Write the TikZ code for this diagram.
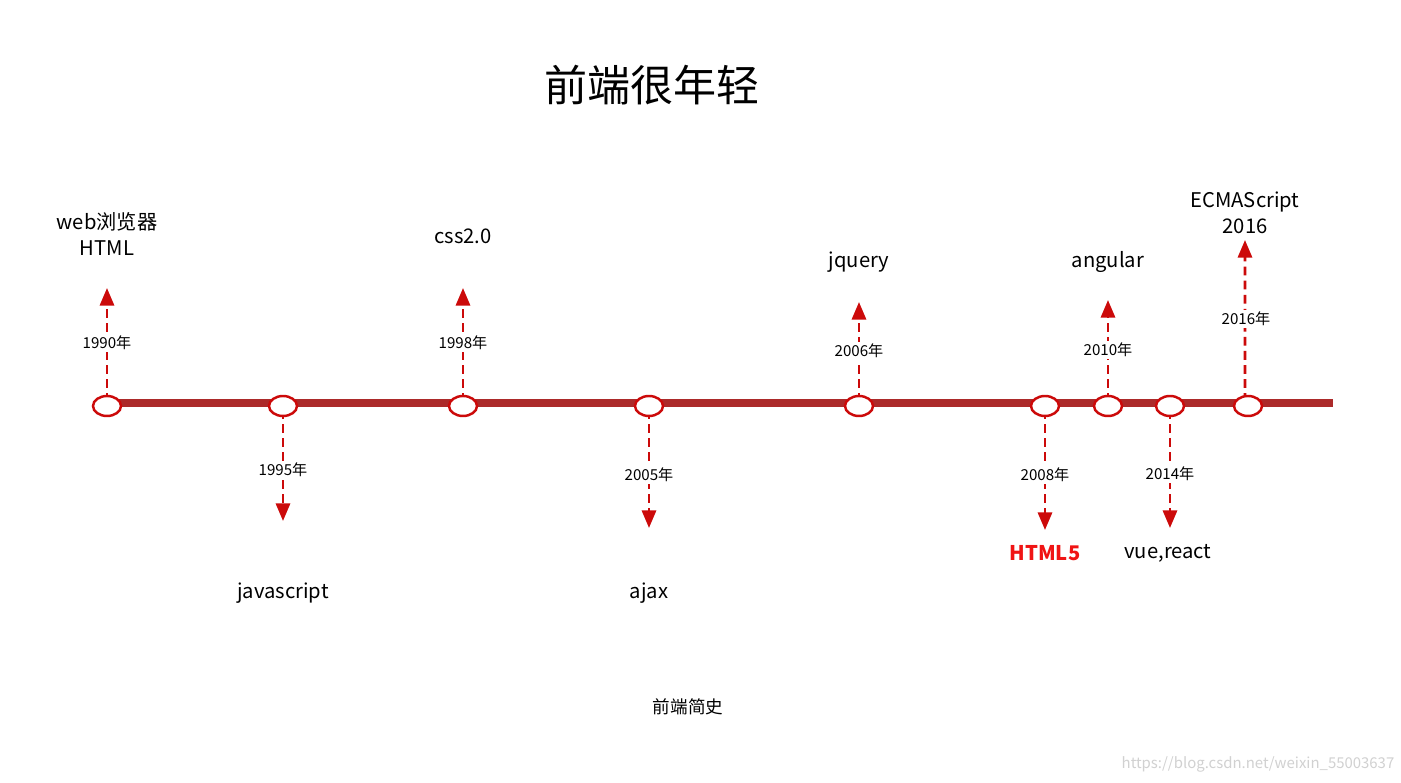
\documentclass[tikz,border=0pt]{standalone}
\usepackage{fontspec}
\setmainfont{Noto Sans CJK SC}
\newfontfamily\cjk{Noto Sans CJK SC}
\usetikzlibrary{arrows.meta}
\definecolor{axisred}{RGB}{172,42,42}
\definecolor{ringred}{RGB}{204,10,10}
\definecolor{hred}{RGB}{240,20,20}
\tikzset{
  x=0.02cm, y=-0.02cm,
  dot/.style={draw=ringred, line width=1.4pt, fill=white},
  conn/.style={draw=ringred, line width=1.6pt, dash pattern=on 5pt off 3pt, -{Triangle[width=8pt,length=10pt]}},
  yearlbl/.style={fill=white, inner sep=1pt, font=\cjk\fontsize{8.6}{10}\selectfont},
  evt/.style={font=\cjk\fontsize{11.5}{15}\selectfont, align=center, inner sep=0pt},
}
\begin{document}
\begin{tikzpicture}
\useasboundingbox (0,0) rectangle (1401,783);
\fill[white] (0,0) rectangle (1401,783);
% title
\node[font=\cjk\fontsize{24.5}{30}\selectfont] (title) at (652,85) {前端很年轻};
% axis
\coordinate (axL) at (100,403);
\coordinate (axR) at (1333,403);
\draw[axisred, line width=4pt] (axL) -- (axR);
% rings
\foreach \n/\x in {c90/107,c95/283,c98/463,c05/649,c06/859,c08/1045,c10/1108,c14/1170,c16/1248}{
  \coordinate (\n) at (\x,406);
}
% arrow endpoints
\coordinate (t90) at (107,288);
\coordinate (t95) at (283,521);
\coordinate (t98) at (463,288);
\coordinate (t05) at (649,528);
\coordinate (t06) at (859,302);
\coordinate (t08) at (1045,530);
\coordinate (t10) at (1108,300);
\coordinate (t14) at (1170,528);
\coordinate (t16) at (1245,240);
% connectors
\draw[conn] ([yshift=-0.2cm]c90) -- (t90);
\draw[conn] ([yshift=0.2cm]c95) -- (t95);
\draw[conn] ([yshift=-0.2cm]c98) -- (t98);
\draw[conn] ([yshift=0.2cm]c05) -- (t05);
\draw[conn] ([yshift=-0.2cm]c06) -- (t06);
\draw[conn] ([yshift=0.2cm]c08) -- (t08);
\draw[conn] ([yshift=-0.2cm]c10) -- (t10);
\draw[conn] ([yshift=0.2cm]c14) -- (t14);
\draw[conn] ([yshift=-0.2cm,xshift=-0.06cm]c16) -- (t16);
% ring shapes
\foreach \n in {c90,c95,c98,c05,c06,c08,c10,c14,c16}{
  \draw[dot] (\n) ellipse [x radius=0.28cm, y radius=0.2cm];
}
% year labels
\node[yearlbl] (y90) at (107,343) {1990年};
\node[yearlbl] (y95) at (283,470) {1995年};
\node[yearlbl] (y98) at (463,343) {1998年};
\node[yearlbl] (y05) at (649,475) {2005年};
\node[yearlbl] (y06) at (859,351) {2006年};
\node[yearlbl] (y08) at (1045,475) {2008年};
\node[yearlbl] (y10) at (1108,350) {2010年};
\node[yearlbl] (y14) at (1170,474) {2014年};
\node[yearlbl] (y16) at (1246,319) {2016年};
% event labels
\node[evt] (e90) at (107,234) {web浏览器\\HTML};
\node[evt] (e95) at (283,593) {javascript};
\node[evt] (e98) at (463,236) {css2.0};
\node[evt] (e05) at (649,593) {ajax};
\node[evt] (e06) at (859,262) {jquery};
\node[evt, text=hred, font=\cjk\bfseries\fontsize{11.5}{15}\selectfont] (e08) at (1045,553) {HTML5};
\node[evt] (e10) at (1108,262) {angular};
\node[evt] (e14) at (1168,553) {vue,react};
\node[evt] (e16) at (1245,213) {ECMAScript\\2016};
% caption
\node[font=\cjk\fontsize{10}{12}\selectfont] (cap) at (688,707) {前端简史};
% watermark
\node[text=black!18, font=\cjk\fontsize{8.5}{10}\selectfont] (wm) at (1258,764) {https://blog.csdn.net/weixin\_55003637};
\end{tikzpicture}
\end{document}
